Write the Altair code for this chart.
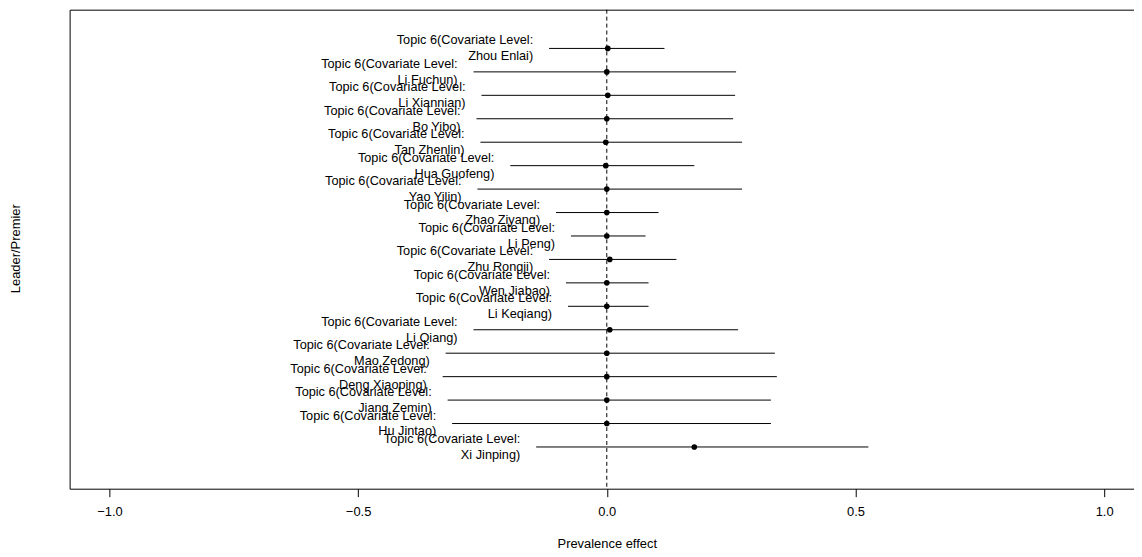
import altair as alt
import pandas as pd

leaders = ["Zhou Enlai", "Li Fuchun", "Li Xiannian", "Bo Yibo", "Tan Zhenlin",
           "Hua Guofeng", "Yao Yilin", "Zhao Ziyang", "Li Peng", "Zhu Rongji",
           "Wen Jiabao", "Li Keqiang", "Li Qiang", "Mao Zedong", "Deng Xiaoping",
           "Jiang Zemin", "Hu Jintao", "Xi Jinping"]
estimate = [0.002, 0.0, 0.002, 0.0, -0.002, -0.002, 0.0, 0.0, 0.0, 0.006,
            0.0, 0.0, 0.006, 0.0, 0.0, 0.0, 0.0, 0.176]
lower = [-0.116, -0.268, -0.252, -0.262, -0.254, -0.194, -0.260, -0.102, -0.072, -0.116,
         -0.082, -0.078, -0.268, -0.324, -0.330, -0.320, -0.311, -0.142]
upper = [0.116, 0.260, 0.258, 0.254, 0.272, 0.176, 0.272, 0.104, 0.078, 0.140,
         0.084, 0.084, 0.264, 0.338, 0.342, 0.330, 0.330, 0.526]
x_ticks = [-1.0, -0.5, 0.0, 0.5, 1.0]
label_prefix = "Topic 6(Covariate Level:"

df = pd.DataFrame({
    "row": list(range(len(leaders))),
    "leader": leaders,
    "est": estimate,
    "lo": lower,
    "hi": upper,
})
df["line1"] = label_prefix
df["line2"] = df["leader"] + ")"

FONT = "Liberation Sans"
W, H = 1071, 482

xscale = alt.Scale(domain=[-1.080, 1.060], nice=False, zero=False)
yscale = alt.Scale(domain=[-1.653, 18.78], nice=False, zero=False, reverse=True)

xenc = alt.X("lo:Q", scale=xscale,
             axis=alt.Axis(values=x_ticks, format=".1f", grid=False, domain=False,
                           tickSize=8, tickColor="black", labelFont=FONT, labelFontSize=13,
                           labelColor="black", labelPadding=9,
                           title="Prevalence effect", titleFont=FONT, titleFontSize=13,
                           titleFontWeight="normal", titleColor="black",
                           titleBaseline="middle", titleY=55, titleX=540.5))
yenc = alt.Y("row:Q", scale=yscale,
             axis=alt.Axis(labels=False, ticks=False, grid=False, domain=False,
                           title="Leader/Premier", titleFont=FONT, titleFontSize=13,
                           titleFontWeight="normal", titleColor="black",
                           titleX=-54, titleY=240, titleAngle=-90,
                           titleAlign="center", titleBaseline="middle"))

base = alt.Chart(df)

ci = base.mark_rule(color="black", strokeWidth=1).encode(
    x=xenc, x2="hi:Q", y=yenc)

zero = alt.Chart(pd.DataFrame({"z": [0.0]})).mark_rule(
    color="black", strokeWidth=1, strokeDash=[4, 3]).encode(
    x=alt.X("z:Q", scale=xscale))

pts = base.mark_point(filled=True, color="black", size=32, opacity=1, shape="circle").encode(
    x=alt.X("est:Q", scale=xscale), y=alt.Y("row:Q", scale=yscale))

t1 = base.mark_text(align="right", baseline="middle", dx=-16, dy=-8,
                    font=FONT, fontSize=12.8, color="black").encode(
    x=alt.X("lo:Q", scale=xscale), y=alt.Y("row:Q", scale=yscale), text="line1:N")

t2 = base.mark_text(align="right", baseline="middle", dx=-16, dy=8,
                    font=FONT, fontSize=12.8, color="black").encode(
    x=alt.X("lo:Q", scale=xscale), y=alt.Y("row:Q", scale=yscale), text="line2:N")

chart = alt.layer(ci, zero, pts, t1, t2).properties(
    width=W, height=H,
    autosize=alt.AutoSizeParams(type="none"),
    padding={"left": 62, "top": 0, "right": 0, "bottom": 62},
).configure(background="white", view=alt.ViewConfig(stroke="black", strokeWidth=1))

chart.save("out.html", embed_options={"renderer": "svg", "actions": False})
